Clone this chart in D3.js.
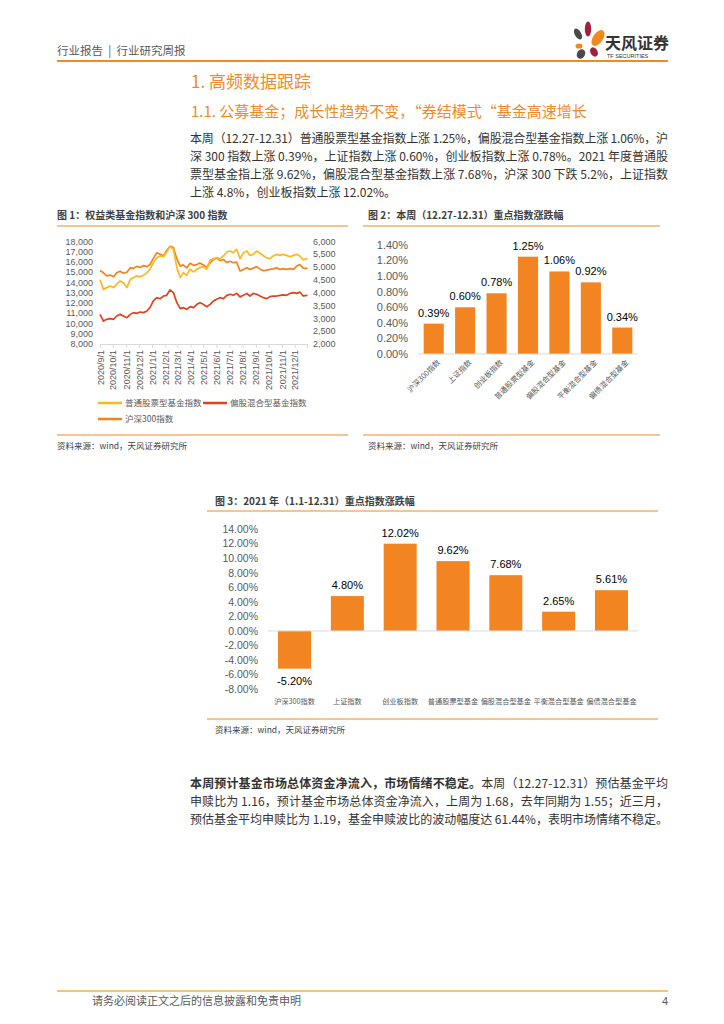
<!DOCTYPE html>
<html><head><meta charset="utf-8">
<script src="https://cdn.jsdelivr.net/npm/d3@7"></script>
<style>
body{margin:0;background:#fff;}
svg text{font-family:"Noto Sans CJK SC","Noto Sans",sans-serif;}
svg text.num{font-family:"Liberation Sans",Arial,sans-serif;}
</style></head><body>
<svg id="page" width="724" height="1024"></svg>
<script>
// ---------------- data ----------------
const dates = ["2020-09-01","2020-09-09","2020-09-17","2020-09-25","2020-10-03","2020-10-10","2020-10-18","2020-10-26","2020-11-03","2020-11-11","2020-11-18","2020-11-26","2020-12-04","2020-12-12","2020-12-20","2020-12-27","2021-01-04","2021-01-12","2021-01-20","2021-01-28","2021-02-04","2021-02-12","2021-02-20","2021-02-28","2021-03-08","2021-03-15","2021-03-23","2021-03-31","2021-04-08","2021-04-16","2021-04-23","2021-05-01","2021-05-09","2021-05-17","2021-05-25","2021-06-01","2021-06-09","2021-06-17","2021-06-25","2021-07-03","2021-07-10","2021-07-18","2021-07-26","2021-08-03","2021-08-11","2021-08-18","2021-08-26","2021-09-03","2021-09-11","2021-09-19","2021-09-26","2021-10-04","2021-10-12","2021-10-20","2021-10-28","2021-11-04","2021-11-12","2021-11-20","2021-11-28","2021-12-06","2021-12-13","2021-12-21","2021-12-29","2021-12-31"];
// 普通股票型基金指数 (left axis)
const stockFund = [14250,13330,13500,13660,13500,13820,14150,13980,13500,14310,14470,14630,14570,14700,14960,15290,15940,16420,16590,16520,16980,17500,17240,15450,14470,14960,14700,15290,15030,15290,15450,15550,15290,16200,16330,16420,16330,16590,16980,17070,16910,17240,16330,16910,17070,16650,16750,17070,16850,16590,16420,16330,16590,16750,16650,16750,16650,16520,16650,16750,16590,16200,16330,16350];
// 偏股混合型基金指数 (left axis)
const mixedFund = [10890,10240,10410,10470,10410,10730,10890,10730,10570,10890,11060,10990,11120,11060,11220,11550,12200,12520,12420,12680,12750,13270,13010,12030,11450,11550,11380,11640,11550,11870,12030,11870,11640,11870,12200,12360,12520,12420,12750,12850,12750,12940,12600,12750,12940,12680,12940,12850,12680,12520,12420,12620,12680,12680,12750,12800,12750,12940,13010,12940,13070,12680,12750,12750];
// 沪深300指数 (right axis)
const hs300 = [4870,4780,4660,4690,4620,4780,4840,4760,4800,4980,4950,5030,4990,5060,5020,5100,5340,5560,5500,5440,5650,5810,5760,5320,5040,5090,4970,5150,5070,5100,5160,5080,5000,5170,5300,5360,5250,5300,5180,5230,5170,5200,4850,4910,4980,4910,4960,5020,4920,4860,4880,4910,4930,4970,4910,4940,4910,4940,4910,5040,5100,4960,4950,4940];
const leftTicks = [8000,9000,10000,11000,12000,13000,14000,15000,16000,17000,18000];
const rightTicks = [2000,2500,3000,3500,4000,4500,5000,5500,6000];
const monthTicks = ["2020-09-01","2020-10-01","2020-11-01","2020-12-01","2021-01-01","2021-02-01","2021-03-01","2021-04-01","2021-05-01","2021-06-01","2021-07-01","2021-08-01","2021-09-01","2021-10-01","2021-11-01","2021-12-01"];
const lineNames = ["普通股票型基金指数","偏股混合型基金指数","沪深300指数"];

const weekCats = ["沪深300指数","上证指数","创业板指数","普通股票型基金","偏股混合型基金","平衡混合型基金","偏债混合型基金"];
const weekVals = [0.39,0.60,0.78,1.25,1.06,0.92,0.34];
const weekTicks = [0,0.2,0.4,0.6,0.8,1.0,1.2,1.4];

const yearCats = ["沪深300指数","上证指数","创业板指数","普通股票型基金","偏股混合型基金","平衡混合型基金","偏债混合型基金"];
const yearVals = [-5.20,4.80,12.02,9.62,7.68,2.65,5.61];
const yearTicks = [-8,-6,-4,-2,0,2,4,6,8,10,12,14];

// ---------------- page ----------------
const ORANGE = "#F08A24";
const svg = d3.select("#page");
svg.append("rect").attr("width",724).attr("height",1024).attr("fill","#fff");

function txt(x,y,s,size,opts={}){
  const t = svg.append("text").attr("x",x).attr("y",y).text(s)
    .attr("font-size",size).attr("fill",opts.fill||"#333");
  if(opts.weight) t.attr("font-weight",opts.weight);
  if(opts.anchor) t.attr("text-anchor",opts.anchor);
  if(opts.len) t.attr("textLength",opts.len).attr("lengthAdjust","spacing");
  if(opts.cls) t.attr("class",opts.cls);
  if(opts.pre) t.style("white-space","pre");
  return t;
}
function hline(x1,x2,y,color,w){
  svg.append("line").attr("x1",x1).attr("x2",x2).attr("y1",y).attr("y2",y)
    .attr("stroke",color).attr("stroke-width",w);
}

// header
txt(57,55,"行业报告  |  行业研究周报",11.5,{fill:"#595959",pre:true});
hline(57,668,61,ORANGE,2);
// logo
const logo = svg.append("g");
[[578,34,3.2,6,-30,"#4A4A4A"],[588,29,3.2,7.5,0,"#A3203B"],[598,38,5,9,35,"#F08A1C"],
 [579,46,3.5,2.6,0,"#F08A1C"],[581,54,4,5,30,"#4A4A4A"],[594,52,3.5,5,-30,"#A3203B"]]
 .forEach(e=>logo.append("ellipse").attr("cx",0).attr("cy",0).attr("rx",e[2]).attr("ry",e[3])
   .attr("fill",e[5]).attr("transform",`translate(${e[0]},${e[1]}) rotate(${e[4]})`));
txt(605,49,"天风证券",16,{weight:"bold",fill:"#333"});
txt(607,58,"TF SECURITIES",5.5,{fill:"#333",cls:"num"});

// section titles
txt(191,88,"1. 高频数据跟踪",17,{fill:ORANGE});
txt(191,117,"1.1. 公募基金；成长性趋势不变，“券结模式“基金高速增长",15,{fill:ORANGE});

// paragraph 1
const p1 = ["本周（12.27-12.31）普通股票型基金指数上涨 1.25%，偏股混合型基金指数上涨 1.06%，沪",
 "深 300 指数上涨 0.39%，上证指数上涨 0.60%，创业板指数上涨 0.78%。2021 年度普通股",
 "票型基金指上涨 9.62%，偏股混合型基金指数上涨 7.68%，沪深 300 下跌 5.2%，上证指数",
 "上涨 4.8%，创业板指数上涨 12.02%。"];
p1.forEach((s,i)=>txt(190,143+i*18,s,12,{fill:"#333",len:i<3?478:null}));

// ---------------- chart 1 ----------------
txt(57,219,"图 1：权益类基金指数和沪深 300 指数",10,{weight:"bold",fill:"#404040"});
hline(57,348,226,ORANGE,1);
const parse = d3.timeParse("%Y-%m-%d");
const x1 = d3.scaleTime().domain([parse("2020-09-01"),parse("2021-12-31")]).range([100,307.5]);
const yL = d3.scaleLinear().domain([8000,18000]).range([344,241.5]);
const yR = d3.scaleLinear().domain([2000,6000]).range([344,241.5]);
const g1 = svg.append("g");
const ax1 = g1.append("g").attr("transform","translate(0,344)")
  .call(d3.axisBottom(x1).tickValues(monthTicks.map(parse)).tickSize(4).tickSizeOuter(0)
  .tickFormat(d3.timeFormat("%Y/%-m/%-d")));
ax1.select(".domain").attr("stroke","#d9d9d9");
ax1.selectAll(".tick line").attr("stroke","#d9d9d9");
ax1.selectAll(".tick text").attr("class","num").attr("fill","#595959").attr("font-size",9)
  .attr("transform","rotate(-90)").attr("x",-6).attr("y",0).attr("dy","0.35em").style("text-anchor","end");
g1.append("line").attr("x1",307.5).attr("x2",307.5).attr("y1",344).attr("y2",348).attr("stroke","#d9d9d9");
const fmtC = d3.format(",");
g1.selectAll(".yl").data(leftTicks).join("text").attr("class","num")
  .attr("x",93).attr("y",d=>yL(d)).attr("dy","0.35em").attr("text-anchor","end")
  .attr("font-size",9).attr("fill","#595959").text(fmtC);
g1.selectAll(".yr").data(rightTicks).join("text").attr("class","num")
  .attr("x",313).attr("y",d=>yR(d)).attr("dy","0.35em")
  .attr("font-size",9).attr("fill","#595959").text(fmtC);
const COLS = ["#FBB91E","#DF431D","#F5821F"];
const series = [
  {vals:stockFund,y:yL,c:COLS[0]},
  {vals:mixedFund,y:yL,c:COLS[1]},
  {vals:hs300,y:yR,c:COLS[2]}];
[2,0,1].forEach(i=>{
  const s = series[i];
  const ln = d3.line().x((d,j)=>x1(parse(dates[j]))).y(d=>s.y(d));
  g1.append("path").attr("d",ln(s.vals)).attr("fill","none").attr("stroke",s.c)
    .attr("stroke-width",1.7).attr("stroke-linejoin","round");
});
// legend
const leg = [[98,403,0],[203,403,1],[98,419,2]];
leg.forEach(([lx,ly,i])=>{
  g1.append("line").attr("x1",lx).attr("x2",lx+24).attr("y1",ly).attr("y2",ly)
    .attr("stroke",COLS[i]).attr("stroke-width",2.5);
  g1.append("text").attr("x",lx+27).attr("y",ly).attr("dy","0.35em").attr("font-size",8.5)
    .attr("fill","#595959").text(lineNames[i]);
});
hline(57,348,435,ORANGE,1);
txt(57,449,"资料来源：wind，天风证券研究所",8.5,{fill:"#404040"});

// ---------------- chart 2 ----------------
txt(368,219,"图 2：本周（12.27-12.31）重点指数涨跌幅",10,{weight:"bold",fill:"#404040"});
hline(363,660,226,ORANGE,1);
const x2 = d3.scaleBand().domain(weekCats).range([418,638]).paddingInner(0.36).paddingOuter(0.18);
const y2 = d3.scaleLinear().domain([0,1.4]).range([354,245]);
const g2 = svg.append("g");
const loc = d3.formatLocale({decimal:".",thousands:",",grouping:[3],currency:["",""],minus:"-"});
const pct = v=>loc.format(".2f")(v)+"%";
g2.selectAll(".yt").data(weekTicks).join("text").attr("class","num")
  .attr("x",408).attr("y",d=>y2(d)).attr("dy","0.35em").attr("text-anchor","end")
  .attr("font-size",11).attr("fill","#595959").text(pct);
g2.selectAll("rect").data(weekVals).join("rect")
  .attr("x",(d,i)=>x2(weekCats[i])).attr("width",x2.bandwidth())
  .attr("y",d=>y2(d)).attr("height",d=>y2(0)-y2(d)).attr("fill","#F28522");
g2.append("line").attr("x1",418).attr("x2",638).attr("y1",y2(0)).attr("y2",y2(0))
  .attr("stroke","#d9d9d9").attr("stroke-width",1);
g2.selectAll(".vl").data(weekVals).join("text").attr("class","num")
  .attr("x",(d,i)=>x2(weekCats[i])+x2.bandwidth()/2).attr("y",d=>y2(d)-7)
  .attr("text-anchor","middle").attr("font-size",11).attr("fill","#000").text(pct);
g2.selectAll(".xl").data(weekCats).join("text")
  .attr("transform",d=>`translate(${x2(d)+x2.bandwidth()/2+5},${361}) rotate(-45)`)
  .attr("text-anchor","end").attr("dy","0.35em").attr("font-size",7.5).attr("fill","#595959").text(d=>d);
hline(363,660,435,ORANGE,1);
txt(368,449,"资料来源：wind，天风证券研究所",8.5,{fill:"#404040"});

// ---------------- chart 3 ----------------
txt(215,505,"图 3：2021 年（1.1-12.31）重点指数涨跌幅",10,{weight:"bold",fill:"#404040"});
hline(207,658,511,ORANGE,1);
const x3 = d3.scaleBand().domain(yearCats).range([268,638]).paddingInner(0.375).paddingOuter(0.19);
const y3 = d3.scaleLinear().domain([-8,14]).range([689,529.3]);
const g3 = svg.append("g");
g3.selectAll(".yt").data(yearTicks).join("text").attr("class","num")
  .attr("x",258).attr("y",d=>y3(d)).attr("dy","0.35em").attr("text-anchor","end")
  .attr("font-size",10.5).attr("fill","#595959").text(pct);
g3.selectAll("rect").data(yearVals).join("rect")
  .attr("x",(d,i)=>x3(yearCats[i])).attr("width",x3.bandwidth())
  .attr("y",d=>y3(Math.max(0,d))).attr("height",d=>Math.abs(y3(d)-y3(0))).attr("fill","#F28522");
g3.append("line").attr("x1",268).attr("x2",638).attr("y1",y3(0)).attr("y2",y3(0))
  .attr("stroke","#d9d9d9").attr("stroke-width",1);
g3.selectAll(".vl").data(yearVals).join("text").attr("class","num")
  .attr("x",(d,i)=>x3(yearCats[i])+x3.bandwidth()/2).attr("y",d=>d>=0?y3(d)-7:y3(d)+16)
  .attr("text-anchor","middle").attr("font-size",11).attr("fill","#000").text(pct);
g3.selectAll(".xl").data(yearCats).join("text")
  .attr("x",d=>x3(d)+x3.bandwidth()/2).attr("y",704)
  .attr("text-anchor","middle").attr("font-size",7.2).attr("fill","#595959").text(d=>d);
hline(207,658,719,ORANGE,1);
txt(215,733,"资料来源：wind，天风证券研究所",8.5,{fill:"#404040"});

// paragraph 2
const p2b = "本周预计基金市场总体资金净流入，市场情绪不稳定。";
const l1 = svg.append("text").attr("x",190).attr("y",788).attr("font-size",12).attr("fill","#333")
  .attr("textLength",478).attr("lengthAdjust","spacing");
l1.append("tspan").attr("font-weight","bold").text(p2b);
l1.append("tspan").text("本周（12.27-12.31）预估基金平均");
txt(190,806,"申赎比为 1.16，预计基金市场总体资金净流入，上周为 1.68，去年同期为 1.55；近三月，",12,{len:478});
txt(190,824,"预估基金平均申赎比为 1.19，基金申赎波比的波动幅度达 61.44%，表明市场情绪不稳定。",12,{len:478});

// footer
hline(57,668,991,"#F5B041",1.5);
txt(92,1005,"请务必阅读正文之后的信息披露和免责申明",11,{fill:"#595959"});
txt(668,1005,"4",11,{fill:"#595959",anchor:"end",cls:"num"});
</script></body></html>
